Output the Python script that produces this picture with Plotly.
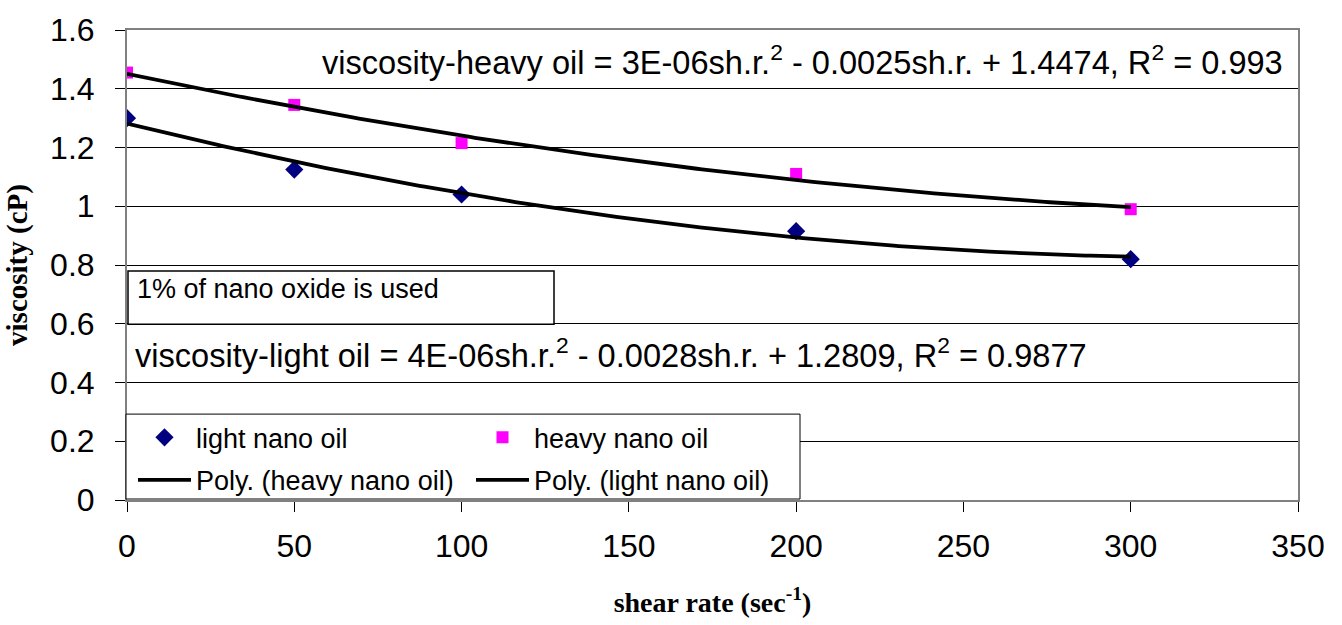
import numpy as np
import plotly.graph_objects as go

# ---- data ----
shear_rate = [0, 50, 100, 200, 300]
light_visc = [1.30, 1.125, 1.04, 0.915, 0.82]
heavy_visc = [1.455, 1.345, 1.215, 1.11, 0.99]

x_ticks = [0, 50, 100, 150, 200, 250, 300, 350]
y_ticks = [0, 0.2, 0.4, 0.6, 0.8, 1.0, 1.2, 1.4, 1.6]
y_tick_labels = ["0", "0.2", "0.4", "0.6", "0.8", "1", "1.2", "1.4", "1.6"]

SANS = "Liberation Sans, Arial, sans-serif"
SERIF = "Liberation Serif, Times New Roman, serif"

# polynomial (order 2) trendlines fitted to the data
xs = np.linspace(min(shear_rate), max(shear_rate), 200)
p_light = np.polyfit(shear_rate, light_visc, 2)
p_heavy = np.polyfit(shear_rate, heavy_visc, 2)

fig = go.Figure()
fig.add_trace(go.Scatter(x=shear_rate, y=light_visc, mode="markers", name="light nano oil",
                         marker=dict(symbol="diamond", size=14, color="#000080"),
                         legend="legend"))
fig.add_trace(go.Scatter(x=shear_rate, y=heavy_visc, mode="markers", name="heavy nano oil",
                         marker=dict(symbol="square", size=12, color="#FF00FF"),
                         legend="legend2"))
fig.add_trace(go.Scatter(x=xs, y=np.polyval(p_heavy, xs), mode="lines",
                         name="Poly. (heavy nano oil)",
                         line=dict(color="black", width=3.8), legend="legend3"))
fig.add_trace(go.Scatter(x=xs, y=np.polyval(p_light, xs), mode="lines",
                         name="Poly. (light nano oil)",
                         line=dict(color="black", width=3.8), legend="legend4"))

W, H = 1342, 625
L, R, T, B = 127, 44, 24, 125
pw, ph = W - L - R, H - T - B


def px(xp):
    return (xp - L) / pw


def py(yp):
    return (H - B - yp) / ph


leg_common = dict(bgcolor="rgba(0,0,0,0)", borderwidth=0, font=dict(family=SANS, size=27, color="black"),
                  itemwidth=53, xanchor="left", yanchor="middle", tracegroupgap=0)
fig.update_layout(
    width=W, height=H,
    margin=dict(l=L, r=R, t=T, b=B),
    paper_bgcolor="white", plot_bgcolor="white",
    font=dict(family=SANS, color="black"),
    showlegend=True,
    legend=dict(x=px(133), y=py(437), **leg_common),
    legend2=dict(x=px(471), y=py(437), **leg_common),
    legend3=dict(x=px(133), y=py(480), **leg_common),
    legend4=dict(x=px(471), y=py(480), **leg_common),
    xaxis=dict(range=[0, 350], tickvals=x_ticks, ticks="outside", ticklen=10, tickcolor="black",
               showline=True, linecolor="#808080", linewidth=2, mirror=True,
               showgrid=False, zeroline=False,
               tickfont=dict(family=SANS, size=32, color="black"), ticklabelstandoff=7,
               title=dict(text="shear rate (sec<sup>-1</sup>)",
                          font=dict(family=SERIF, size=28, color="black", weight="bold"), standoff=29)),
    yaxis=dict(range=[0, 1.6], tickvals=y_ticks, ticktext=y_tick_labels, ticks="outside", ticklen=10,
               tickcolor="black", showline=True, linecolor="#808080", linewidth=2, mirror=True,
               showgrid=True, gridcolor="black", gridwidth=1, zeroline=False,
               tickfont=dict(family=SANS, size=32, color="black"), ticklabelstandoff=14,
               title=dict(text="viscosity (cP)", font=dict(family=SERIF, size=29, color="black", weight="bold"),
                          standoff=14)),
    shapes=[
        dict(type="rect", xref="paper", yref="paper", x0=px(128), x1=px(554), y0=py(322), y1=py(268),
             line=dict(color="black", width=1.5), fillcolor="white", layer="above"),
        dict(type="rect", xref="paper", yref="paper", x0=px(126), x1=px(800), y0=py(499), y1=py(413),
             line=dict(color="black", width=1), fillcolor="white", layer="above"),
    ],
    annotations=[
        dict(text="1% of nano oxide is used", xref="paper", yref="paper", x=px(135), y=py(269),
             xanchor="left", yanchor="top", showarrow=False,
             font=dict(family=SANS, size=27, color="black")),
        dict(text="viscosity-heavy oil = 3E-06sh.r.<sup>2</sup> - 0.0025sh.r. + 1.4474, R<sup>2</sup> = 0.993",
             xref="paper", yref="paper", x=px(320), y=py(54), xanchor="left", yanchor="middle",
             showarrow=False, font=dict(family=SANS, size=32.6, color="black")),
        dict(text="viscosity-light oil = 4E-06sh.r.<sup>2</sup> - 0.0028sh.r. + 1.2809, R<sup>2</sup> = 0.9877",
             xref="paper", yref="paper", x=px(133), y=py(351), xanchor="left", yanchor="middle",
             showarrow=False, font=dict(family=SANS, size=32.6, color="black")),
    ],
)

fig.write_html("out.html")
